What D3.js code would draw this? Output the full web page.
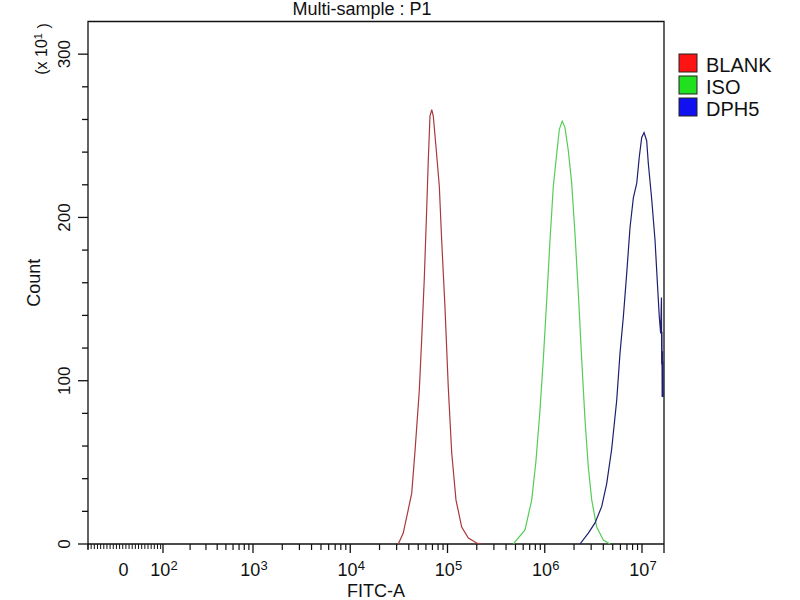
<!DOCTYPE html>
<html>
<head>
<meta charset="utf-8">
<script src="https://cdn.jsdelivr.net/npm/d3@7"></script>
<style>
    body { margin: 0; background: #fff; }
    text { font-family: "Liberation Sans", Arial, sans-serif; fill: #111; }
</style>
</head>
<body>
<div id="chart" style="width:800px;height:600px"></div>
<script>

// histogram outlines: log10(FITC-A) and Count (x10)
const blankLog = [4.494, 4.545, 4.632, 4.666, 4.710, 4.735, 4.761, 4.786, 4.803, 4.820, 4.838, 4.854,
    4.882, 4.916, 4.940, 4.974, 5.008, 5.043, 5.087, 5.146, 5.214, 5.300, 5.352];
const blankCount = [0, 6.7, 31, 57, 94, 126, 162, 205, 236, 262, 266, 262,
    243, 219, 186, 145, 96, 56, 27, 10.4, 3.7, 0.6, 0];

const isoLog = [5.677, 5.797, 5.866, 5.910, 5.951, 5.985, 6.020, 6.054, 6.088, 6.123, 6.150, 6.180,
    6.208, 6.242, 6.277, 6.311, 6.345, 6.380, 6.414, 6.448, 6.483, 6.534, 6.602, 6.671];
const isoCount = [0, 8.6, 27, 51, 82, 113, 149, 186, 219, 239, 254, 259,
    255, 241, 221, 190, 154, 113, 76, 47, 27, 10.4, 2.4, 0];

const dph5Log = [6.362, 6.448, 6.517, 6.586, 6.637, 6.688, 6.740, 6.774, 6.808, 6.843, 6.877, 6.911,
    6.946, 6.972, 6.997, 7.021, 7.048, 7.065, 7.100, 7.134, 7.158, 7.178, 7.192,
    7.200, 7.2025, 7.205, 7.2075, 7.210, 7.2125, 7.215, 7.2175];
const dph5Count = [0, 6.7, 12.9, 23, 37, 58, 88, 117, 139, 166, 194, 212,
    221, 237, 249, 252, 247, 233, 211, 186, 160, 139, 129,
    151, 110, 130, 90, 118, 90, 112, 90];

const seriesNames = ["BLANK", "ISO", "DPH5"];

// axis ticks
const yMajorTicks = [0, 100, 200, 300];
const yMinorStep = 20;
const xDecades = [2, 3, 4, 5, 6, 7];
const xLinearTicks = d3.range(-90, 101, 8);   // dense ticks of the linear part round 0


class HistVis {

    constructor(parentElement, series) {
        this.parentElement = parentElement;
        this.series = series;
        this.initVis();
    }

    initVis() {
        let vis = this;

        vis.left = 88;
        vis.right = 664;
        vis.top = 21.5;
        vis.bottom = 544;

        vis.svg = d3.select("#" + vis.parentElement).append("svg")
            .attr("width", 800)
            .attr("height", 600);

        // log part of the x axis, 10^3 .. top of scale
        vis.xScale = d3.scaleLog()
            .domain([1e3, Math.pow(10, 7.2262)])
            .range([253, vis.right]);

        // compressed part below 10^3
        vis.xLow = d3.scaleLog()
            .domain([1e2, 1e3])
            .range([163, 253]);

        vis.xLin = d3.scaleLinear()
            .domain([-90, 100])
            .range([vis.left, 163]);

        vis.yScale = d3.scaleLinear()
            .domain([0, 320])
            .range([vis.bottom, vis.top]);

        vis.colors = ["#a8383c", "#55cc55", "#1e1e70"];
        vis.swatch = ["#ff1414", "#20e020", "#1010f0"];

        vis.drawAxes();
        vis.wrangleData();
    }

    drawAxes() {
        let vis = this;

        let g = vis.svg.append("g").attr("class", "axes");

        // box
        g.append("path")
            .attr("d", `M${vis.left},550 V${vis.top} H${vis.right} V553`)
            .attr("fill", "none")
            .attr("stroke", "#111")
            .attr("stroke-width", 1.3);
        g.append("line")
            .attr("x1", vis.left).attr("x2", vis.right)
            .attr("y1", vis.bottom).attr("y2", vis.bottom)
            .attr("stroke", "#111")
            .attr("stroke-width", 1.3);

        // y ticks
        let yMinor = d3.range(0, 301, yMinorStep).filter(v => yMajorTicks.indexOf(v) < 0);
        g.selectAll(".ytick-major")
            .data(yMajorTicks)
            .enter()
            .append("line")
            .attr("x1", vis.left - 10).attr("x2", vis.left)
            .attr("y1", d => vis.yScale(d)).attr("y2", d => vis.yScale(d))
            .attr("stroke", "#111")
            .attr("stroke-width", 1.3);
        g.selectAll(".ytick-minor")
            .data(yMinor)
            .enter()
            .append("line")
            .attr("x1", vis.left - 6).attr("x2", vis.left)
            .attr("y1", d => vis.yScale(d)).attr("y2", d => vis.yScale(d))
            .attr("stroke", "#111")
            .attr("stroke-width", 1.3);

        g.selectAll(".ylabel")
            .data(yMajorTicks)
            .enter()
            .append("text")
            .attr("transform", d => `translate(70, ${vis.yScale(d)}) rotate(-90)`)
            .attr("text-anchor", "middle")
            .style("font-size", "17px")
            .text(d => d);

        // x ticks: dense linear part
        g.selectAll(".xtick-lin")
            .data(xLinearTicks)
            .enter()
            .append("line")
            .attr("x1", d => vis.xLin(d)).attr("x2", d => vis.xLin(d))
            .attr("y1", vis.bottom).attr("y2", vis.bottom + 5)
            .attr("stroke", "#111")
            .attr("stroke-width", 1);

        // x ticks: log minors
        let minorLow = d3.range(2, 10).map(k => k * 100);
        let minorHigh = [];
        [3, 4, 5, 6].forEach(p => d3.range(2, 10).forEach(k => minorHigh.push(k * Math.pow(10, p))));

        g.selectAll(".xtick-minlow")
            .data(minorLow)
            .enter()
            .append("line")
            .attr("x1", d => vis.xLow(d)).attr("x2", d => vis.xLow(d))
            .attr("y1", vis.bottom).attr("y2", vis.bottom + 6)
            .attr("stroke", "#111")
            .attr("stroke-width", 1.2);
        g.selectAll(".xtick-minhigh")
            .data(minorHigh)
            .enter()
            .append("line")
            .attr("x1", d => vis.xScale(d)).attr("x2", d => vis.xScale(d))
            .attr("y1", vis.bottom).attr("y2", vis.bottom + 6)
            .attr("stroke", "#111")
            .attr("stroke-width", 1.2);

        let decX = p => p < 3 ? vis.xLow(Math.pow(10, p)) : vis.xScale(Math.pow(10, p));

        g.selectAll(".xtick-major")
            .data(xDecades)
            .enter()
            .append("line")
            .attr("x1", d => decX(d)).attr("x2", d => decX(d))
            .attr("y1", vis.bottom).attr("y2", vis.bottom + 9)
            .attr("stroke", "#111")
            .attr("stroke-width", 1.3);

        let lab = g.selectAll(".xlabel")
            .data(xDecades)
            .enter()
            .append("text")
            .attr("x", d => decX(d) + 1)
            .attr("y", 576)
            .attr("text-anchor", "middle")
            .style("font-size", "18px");
        lab.append("tspan").text("10");
        lab.append("tspan")
            .attr("dy", "-0.45em")
            .style("font-size", "13px")
            .text(d => d);

        g.append("text")
            .attr("x", vis.xLin(0))
            .attr("y", 576)
            .attr("text-anchor", "middle")
            .style("font-size", "18px")
            .text("0");

        // titles
        g.append("text")
            .attr("x", 362)
            .attr("y", 15)
            .attr("text-anchor", "middle")
            .style("font-size", "18px")
            .text("Multi-sample : P1");

        g.append("text")
            .attr("x", (vis.left + vis.right) / 2)
            .attr("y", 597)
            .attr("text-anchor", "middle")
            .style("font-size", "18px")
            .text("FITC-A");

        g.append("text")
            .attr("transform", `translate(40, ${(vis.top + vis.bottom) / 2}) rotate(-90)`)
            .attr("text-anchor", "middle")
            .style("font-size", "18px")
            .text("Count");

        let mult = g.append("text")
            .attr("transform", "translate(47, 49) rotate(-90)")
            .attr("text-anchor", "middle")
            .style("font-size", "16px");
        mult.append("tspan").text("(x 10");
        mult.append("tspan").attr("dy", "-0.45em").style("font-size", "11px").text("1");
        mult.append("tspan").attr("dy", "0.45em").text(" )");
    }

    wrangleData() {
        let vis = this;

        vis.displayData = vis.series.map(s => s.log.map((e, i) => ({e: e, c: s.count[i]})));

        vis.updateVis();
    }

    updateVis() {
        let vis = this;

        vis.svg.append("clipPath")
            .attr("id", "plotclip")
            .append("rect")
            .attr("x", vis.left)
            .attr("y", vis.top)
            .attr("width", vis.right - vis.left)
            .attr("height", vis.bottom - vis.top);

        let line = d3.line()
            .x(d => vis.xScale(Math.pow(10, d.e)))
            .y(d => vis.yScale(d.c));

        vis.svg.append("g")
            .attr("clip-path", "url(#plotclip)")
            .selectAll(".hist")
            .data(vis.displayData)
            .enter()
            .append("path")
            .attr("class", "hist")
            .attr("d", d => line(d))
            .attr("fill", "none")
            .attr("stroke", (d, i) => vis.colors[i])
            .attr("stroke-width", 1.2);

        // legend
        let leg = vis.svg.selectAll(".legend")
            .data(vis.series)
            .enter()
            .append("g")
            .attr("class", "legend")
            .attr("transform", (d, i) => `translate(679, ${54 + i * 22})`);

        leg.append("rect")
            .attr("width", 18)
            .attr("height", 18)
            .attr("fill", (d, i) => vis.swatch[i])
            .attr("stroke", "#222")
            .attr("stroke-width", 1);

        leg.append("text")
            .attr("x", 27)
            .attr("y", 18)
            .style("font-size", "20px")
            .text(d => d.name);
    }
}

let myHist = new HistVis("chart", [
    {name: seriesNames[0], log: blankLog, count: blankCount},
    {name: seriesNames[1], log: isoLog, count: isoCount},
    {name: seriesNames[2], log: dph5Log, count: dph5Count}
]);

</script>
</body>
</html>
